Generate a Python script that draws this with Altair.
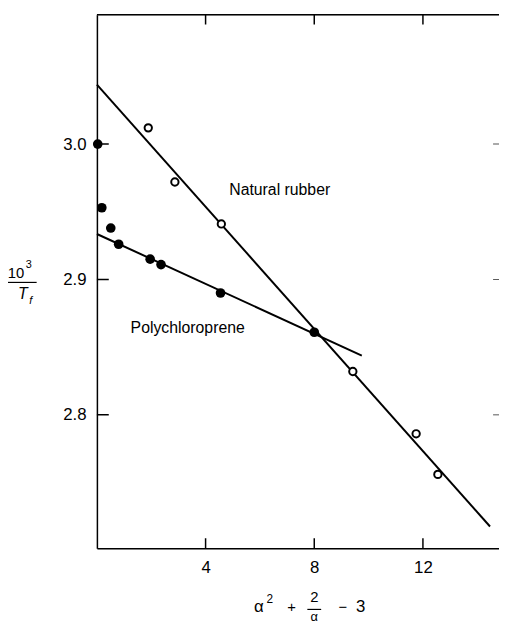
import altair as alt
import pandas as pd

# ---- data ----
nr_x = [1.89, 2.87, 4.58, 9.42, 11.75, 12.55]
nr_y = [3.012, 2.972, 2.941, 2.832, 2.786, 2.756]
pc_x = [0.03, 0.18, 0.51, 0.80, 1.96, 2.36, 4.55, 8.00]
pc_y = [3.000, 2.953, 2.938, 2.926, 2.915, 2.911, 2.890, 2.861]
nr_line_x = [0.0, 14.47]
nr_line_y = [3.044, 2.7175]
pc_line_x = [0.0, 9.75]
pc_line_y = [2.9336, 2.8438]
x_ticks = [4, 8, 12]
y_ticks = [2.8, 2.9, 3.0]
labels = ["Natural rubber", "Polychloroprene"]
label_x = [4.87, 1.24]
label_y = [2.9664, 2.8642]

XMIN, XMAX = 0.0, 14.8
YMIN, YMAX = 2.7015, 3.0956
W, H = 407, 540
FONT = "Liberation Sans"

xs = alt.Scale(domain=[XMIN, XMAX], nice=False, zero=False)
ys = alt.Scale(domain=[YMIN, YMAX], nice=False, zero=False)

x_axis = alt.Axis(values=x_ticks, format="d", ticks=False, grid=False, domain=True,
                  domainColor="black", domainWidth=1.5, labelFontSize=17, labelFont=FONT,
                  labelColor="black", labelPadding=12, title=None)
y_axis = alt.Axis(values=y_ticks, format=".1f", ticks=False, grid=False, domain=True,
                  domainColor="black", domainWidth=1.5, labelFontSize=17, labelFont=FONT,
                  labelColor="black", labelPadding=11, title=None)

# frame top line (also carries the axes)
top_df = pd.DataFrame({"x": [XMIN], "x2": [XMAX], "y": [YMAX]})
top_line = alt.Chart(top_df).mark_rule(color="black", strokeWidth=1.5).encode(
    x=alt.X("x:Q", scale=xs, axis=x_axis),
    x2="x2:Q",
    y=alt.Y("y:Q", scale=ys, axis=y_axis),
)

X = lambda f: alt.X(f, scale=xs)
Y = lambda f: alt.Y(f, scale=ys)

# inward ticks
xt_df = pd.DataFrame({"x": x_ticks * 2, "y": [YMIN] * 3 + [YMAX] * 3})
xticks = alt.Chart(xt_df).mark_tick(orient="vertical", size=20, thickness=1.5,
                                     color="black", clip=True, opacity=1).encode(
    x=X("x:Q"), y=Y("y:Q"))
lt_df = pd.DataFrame({"x": [XMIN] * 3, "y": y_ticks})
lticks = alt.Chart(lt_df).mark_tick(orient="horizontal", size=24, thickness=1.5,
                                     color="black", clip=True, opacity=1).encode(
    x=X("x:Q"), y=Y("y:Q"))
rt_df = pd.DataFrame({"x": [XMAX] * 3, "y": y_ticks})
rticks = alt.Chart(rt_df).mark_tick(orient="horizontal", size=12, thickness=1,
                                     color="#555555", clip=True, opacity=1).encode(
    x=X("x:Q"), y=Y("y:Q"))

# fitted lines
nr_line = alt.Chart(pd.DataFrame({"x": nr_line_x, "y": nr_line_y})).mark_line(
    color="black", strokeWidth=2).encode(x=X("x:Q"), y=Y("y:Q"))
pc_line = alt.Chart(pd.DataFrame({"x": pc_line_x, "y": pc_line_y})).mark_line(
    color="black", strokeWidth=2).encode(x=X("x:Q"), y=Y("y:Q"))

# points
pc_pts = alt.Chart(pd.DataFrame({"x": pc_x, "y": pc_y})).mark_circle(
    size=95, color="black", opacity=1).encode(x=X("x:Q"), y=Y("y:Q"))
nr_pts = alt.Chart(pd.DataFrame({"x": nr_x, "y": nr_y})).mark_point(
    shape="circle", filled=True, fill="white", stroke="black", strokeWidth=2,
    size=55, opacity=1).encode(x=X("x:Q"), y=Y("y:Q"))

# series labels
lab = alt.Chart(pd.DataFrame({"t": labels, "x": label_x, "y": label_y})).mark_text(
    align="left", baseline="middle", fontSize=16, font=FONT, color="black").encode(
    x=X("x:Q"), y=Y("y:Q"), text="t:N")

# axis titles built from text pieces
def txt(s, x, y, size=16, style="normal", align="center"):
    return alt.Chart(pd.DataFrame({"t": [s]})).mark_text(
        fontSize=size, font=FONT, fontStyle=style, color="black", align=align,
        baseline="middle").encode(text="t:N", x=alt.value(x), y=alt.value(y))

def bar(x1, x2, y):
    return alt.Chart(pd.DataFrame({"a": [0]})).mark_rule(
        color="black", strokeWidth=1.2).encode(x=alt.value(x1), x2=alt.value(x2), y=alt.value(y))

ytitle = [
    txt("10", -82, 262, 15),
    txt("3", -69, 253, 11),
    bar(-91, -61, 271),
    txt("T", -75, 283, 16, "italic"),
    txt("f", -67, 290, 11, "italic"),
]
xtitle = [
    txt("α", 164, 600, 17),
    txt("2", 175, 592, 12),
    txt("+", 197, 600, 15),
    txt("2", 220, 589, 15),
    bar(213, 227, 602),
    txt("α", 220, 610, 13),
    txt("−", 249, 600, 15),
    txt("3", 267, 600, 17),
]

chart = alt.layer(top_line, xticks, lticks, rticks, nr_line, pc_line, pc_pts, nr_pts, lab,
                  *ytitle, *xtitle).properties(
    width=W, height=H, autosize="none",
    padding={"left": 90, "top": 3, "right": 0, "bottom": 75},
).configure_view(stroke=None).configure(background="white")

chart.save("out.html", embed_options={"renderer": "svg", "actions": False})
